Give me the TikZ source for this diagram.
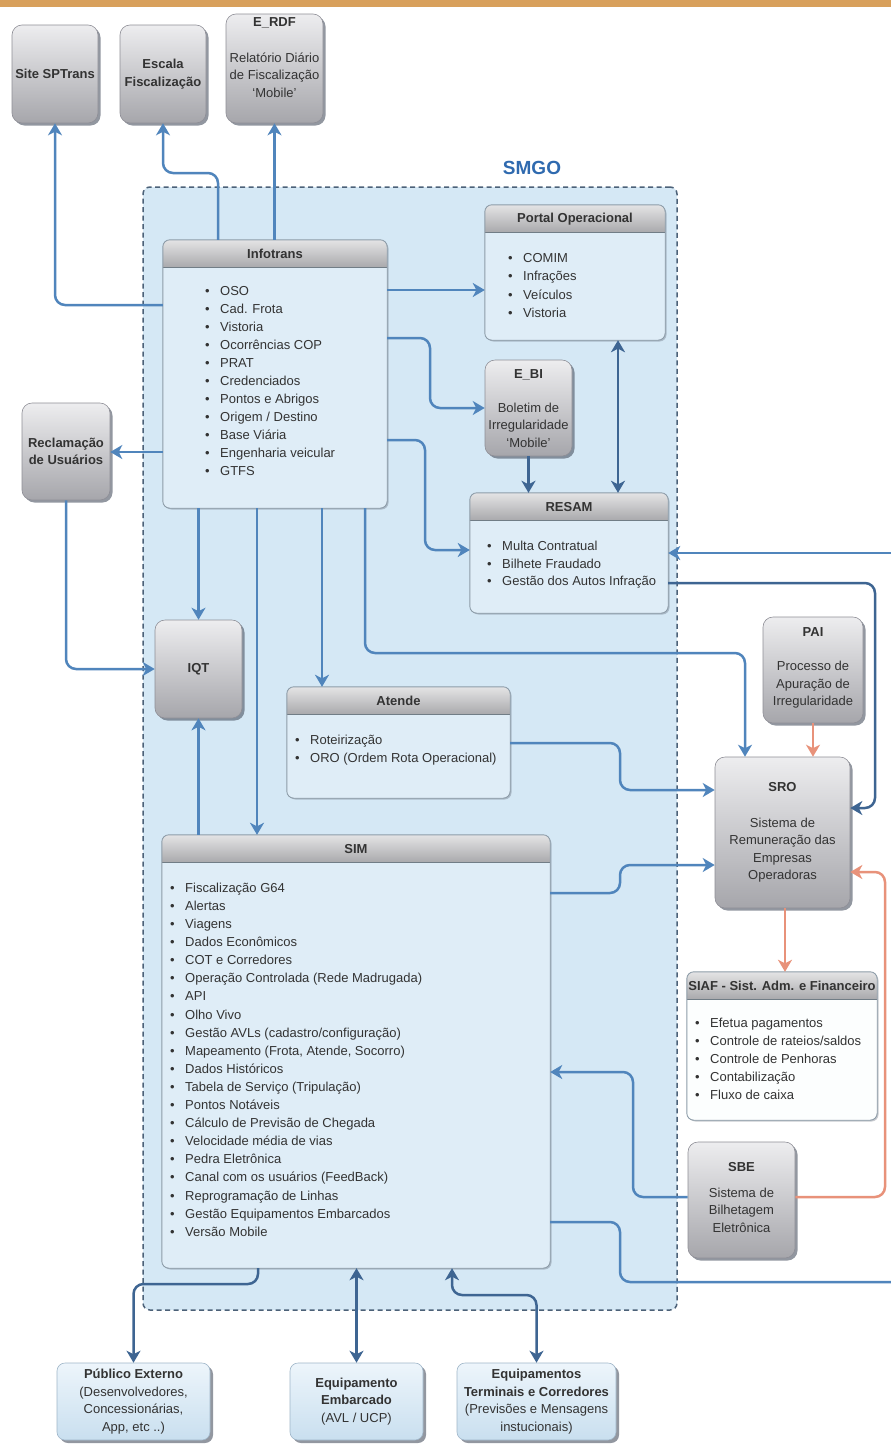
\documentclass[tikz,border=0pt]{standalone}
\usepackage{fontspec}
\setmainfont{Liberation Sans}
\usetikzlibrary{arrows.meta,shadows,fit,calc}
\definecolor{smgobg}{HTML}{D5E8F5}
\definecolor{smgoedge}{HTML}{4C6178}
\definecolor{modbodyc}{HTML}{DFEDF7}
\definecolor{modedgec}{HTML}{8D9CA8}
\definecolor{hdrtop}{HTML}{E4E4E5}
\definecolor{hdrbot}{HTML}{A8A8AB}
\definecolor{gtop}{HTML}{EDEDEF}
\definecolor{gbot}{HTML}{A6A6AB}
\definecolor{gedge}{HTML}{8E8E96}
\definecolor{cblue}{HTML}{5085BC}
\definecolor{cdark}{HTML}{3E6592}
\definecolor{corange}{HTML}{E8927A}
\definecolor{textc}{HTML}{333333}
\definecolor{smgotext}{HTML}{2F6AAF}
\definecolor{btop}{HTML}{EDF5FB}
\definecolor{bbot}{HTML}{C9DFEF}
\definecolor{bedge}{HTML}{9FB6C9}
\definecolor{topbar}{HTML}{D8A05C}
\definecolor{shadowc}{HTML}{4A5262}
\newcommand\blt{\makebox[15pt][l]{\textbullet}}
\tikzset{
  greybox/.style={draw=gedge, line width=0.6pt, rounded corners=10pt, top color=gtop, bottom color=gbot,
    drop shadow={shadow xshift=2.5pt, shadow yshift=-2.5pt, fill=shadowc, opacity=0.6}, inner sep=0pt},
  botbox/.style={draw=bedge, line width=0.6pt, rounded corners=8pt, top color=btop, bottom color=bbot,
    drop shadow={shadow xshift=3pt, shadow yshift=-3pt, fill=shadowc, opacity=0.6}, inner sep=0pt},
  modbody/.style={draw=none, fill=modbodyc, rounded corners=7pt, inner sep=0pt,
    drop shadow={shadow xshift=1.5pt, shadow yshift=-1.5pt, fill=shadowc, opacity=0.3}},
  whitebody/.style={modbody, fill=white!92!modbodyc},
  hdrtext/.style={font=\fontsize{13}{16}\selectfont\bfseries, text=textc, inner sep=0pt},
  gtitle/.style={font=\fontsize{13}{17.5}\selectfont\bfseries, text=textc, align=center, inner sep=0pt},
  gtext/.style={font=\fontsize{13}{17.5}\selectfont, text=textc, align=center, inner sep=0pt},
  listtext/.style={font=\fontsize{13}{#1}\selectfont, text=textc, align=left, inner sep=0pt, anchor=north west},
  conn/.style={draw=cblue, line width=2.5pt, rounded corners=10pt},
  conndark/.style={draw=cdark, line width=2.5pt, rounded corners=10pt},
  connor/.style={draw=corange, line width=2.5pt, rounded corners=10pt},
  >={Stealth[length=12pt,width=14pt,inset=3.5pt]}
}
\newcommand\gbox[5]{\node[greybox, fit={(#2,#3) (#4,#5)}] (#1) {};}
\newcommand\bbox[5]{\node[botbox, fit={(#2,#3) (#4,#5)}] (#1) {};}
\newcommand\modbox[7]{%
  \node[#7, fit={(#2,#3) (#4,#5)}] (#1) {};
  \begin{scope}
    \clip[rounded corners=7pt] (#1.south west) rectangle (#1.north east);
    \shade[top color=hdrtop, bottom color=hdrbot] (#1.north west) rectangle ([yshift=-28pt]#1.north east);
    \draw[modedgec!80!black, line width=1pt] ([yshift=-28pt]#1.north west) -- ([yshift=-28pt]#1.north east);
  \end{scope}
  \draw[modedgec, line width=0.9pt, rounded corners=7pt] (#1.south west) rectangle (#1.north east);
  \node[hdrtext] (#1-t) at ([yshift=-14pt]#1.north) {#6};
}
\begin{document}
\begin{tikzpicture}[x=1pt,y=-1pt]
\useasboundingbox (0,0) rectangle (891,1446);
\fill[white] (0,0) rectangle (891,1446);
\fill[topbar] (0,0) rectangle (891,7);

% SMGO container
\node[fit={(143,187) (677,1310)}, inner sep=0pt, draw=smgoedge, fill=smgobg, line width=1.5pt,
  dash pattern=on 5pt off 3.5pt, rounded corners=7pt] (smgo) {};
\node[font=\fontsize{19}{20}\selectfont\bfseries, text=smgotext, inner sep=0pt] (smgo-t) at (532,168) {SMGO};

% grey boxes
\gbox{site}{12}{25}{98}{123}
\node[gtitle] (site-t) at (site) {Site SPTrans};
\gbox{escala}{120}{25}{206}{123}
\node[gtitle] (escala-t) at (escala) {Escala\\Fiscalização};
\gbox{erdf}{226}{14}{323}{123}
\node[gtitle] (erdf-t) at (274.5,23) {E\_RDF};
\node[gtext] (erdf-d) at (274.5,75) {Relatório Diário\\de Fiscalização\\‘Mobile’};
\gbox{recl}{22}{403}{110}{500}
\node[gtitle] (recl-t) at (recl) {Reclamação\\de Usuários};
\gbox{iqt}{155}{620}{242}{718}
\node[gtitle] (iqt-t) at (iqt) {IQT};
\gbox{ebi}{485}{360}{572}{456}
\node[gtitle] (ebi-t) at (528.5,375) {E\_BI};
\node[gtext] (ebi-d) at (528.5,425) {Boletim de\\Irregularidade\\‘Mobile’};
\gbox{pai}{763}{617}{863}{723}
\node[gtitle] (pai-t) at (813,632) {PAI};
\node[gtext] (pai-d) at (813,685) {Processo de\\Apuração de\\Irregularidade};
\gbox{sro}{715}{757}{850}{908}
\node[gtitle] (sro-t) at (782.5,787) {SRO};
\node[gtext] (sro-d) at (782.5,850) {Sistema de\\Remuneração das\\Empresas\\Operadoras};
\gbox{sbe}{688}{1142}{795}{1258}
\node[gtitle] (sbe-t) at (741.5,1167) {SBE};
\node[gtext] (sbe-d) at (741.5,1210) {Sistema de\\Bilhetagem\\Eletrônica};

% bottom boxes
\bbox{publico}{57}{1363}{210}{1440}
\node[gtext] (publico-t) at (publico) {\textbf{Público Externo}\\(Desenvolvedores,\\Concessionárias,\\App, etc ..)};
\bbox{embarc}{290}{1363}{423}{1440}
\node[gtext] (embarc-t) at (embarc) {\textbf{Equipamento}\\\textbf{Embarcado}\\(AVL / UCP)};
\bbox{term}{457}{1363}{616}{1440}
\node[gtext] (term-t) at (term) {\textbf{Equipamentos}\\\textbf{Terminais e Corredores}\\(Previsões e Mensagens\\instucionais)};

% module boxes
\modbox{infotrans}{163}{240}{387}{508}{Infotrans}{modbody}
\node[listtext=18] (infotrans-l) at (205,282.5) {\strut\blt OSO\\\blt Cad. Frota\\\blt Vistoria\\\blt Ocorrências COP\\\blt PRAT\\\blt Credenciados\\\blt Pontos e Abrigos\\\blt Origem / Destino\\\blt Base Viária\\\blt Engenharia veicular\\\blt GTFS};
\modbox{portal}{485}{205}{665}{340}{Portal Operacional}{modbody}
\node[listtext=18.3] (portal-l) at (508,249.5) {\strut\blt COMIM\\\blt Infrações\\\blt Veículos\\\blt Vistoria};
\modbox{resam}{470}{493}{668}{613}{RESAM}{modbody}
\node[listtext=17.5] (resam-l) at (487,538.5) {\strut\blt Multa Contratual\\\blt Bilhete Fraudado\\\blt Gestão dos Autos Infração};
\modbox{atende}{287}{687}{510}{798}{Atende}{modbody}
\node[listtext=18] (atende-l) at (295,731.5) {\strut\blt Roteirização\\\blt ORO (Ordem Rota Operacional)};
\modbox{sim}{162}{835}{550}{1268}{SIM}{modbody}
\node[listtext=18.1] (sim-l) at (170,879.5) {\strut\blt Fiscalização G64\\\blt Alertas\\\blt Viagens\\\blt Dados Econômicos\\\blt COT e Corredores\\\blt Operação Controlada (Rede Madrugada)\\\blt API\\\blt Olho Vivo\\\blt Gestão AVLs (cadastro/configuração)\\\blt Mapeamento (Frota, Atende, Socorro)\\\blt Dados Históricos\\\blt Tabela de Serviço (Tripulação)\\\blt Pontos Notáveis\\\blt Cálculo de Previsão de Chegada\\\blt Velocidade média de vias\\\blt Pedra Eletrônica\\\blt Canal com os usuários (FeedBack)\\\blt Reprogramação de Linhas\\\blt Gestão Equipamentos Embarcados\\\blt Versão Mobile};
\modbox{siaf}{687}{972}{877}{1120}{SIAF - Sist. Adm. e Financeiro}{whitebody}
\node[listtext=18] (siaf-l) at (695,1014.5) {\strut\blt Efetua pagamentos\\\blt Controle de rateios/saldos\\\blt Controle de Penhoras\\\blt Contabilização\\\blt Fluxo de caixa};

% connectors
\draw[conn,->] (infotrans.west |- 0,305) -| (site.south);
\draw[conn,->] (infotrans.north -| 218,0) |- (escala.south |- 0,173) -- (escala.south);
\draw[conn,->] (infotrans.north -| erdf.south) -- (erdf.south);
\draw[conn,->] (infotrans.east |- 0,290) -- (portal.west |- 0,290);
\draw[conn,->] (infotrans.east |- 0,338) -| (430,0 |- ebi.west) -- (ebi.west);
\draw[conn,->] (infotrans.east |- 0,440) -| (425,550) -- (resam.west |- 0,550);
\draw[conndark,->] (ebi.south) -- (ebi.south |- resam.north);
\draw[conndark,<->] (portal.south -| 618,0) -- (resam.north -| 618,0);
\draw[conn,->] (infotrans.west |- 0,452) -- (recl.east |- 0,452);
\draw[conn,->] (recl.south) |- (iqt.west);
\draw[conn,->] (infotrans.south -| iqt.north) -- (iqt.north);
\draw[conn,->] (sim.north -| iqt.south) -- (iqt.south);
\draw[conn,->] (infotrans.south -| 257,0) -- (sim.north -| 257,0);
\draw[conn,->] (infotrans.south -| 322,0) -- (atende.north -| 322,0);
\draw[conn,->] (infotrans.south -| 365,0) |- (745,653) -- (sro.north -| 745,0);
\draw[conn,->] (atende.east |- 0,743) -| (620,790) -- (sro.west |- 0,790);
\draw[conn,->] (sim.east |- 0,893) -| (620,865) -- (sro.west |- 0,865);
\draw[conndark,->] (resam.east |- 0,583) -| (875,808) -- (sro.east |- 0,808);
\coordinate (edgeA) at (891,553);
\draw[conn,->] (edgeA) -- (resam.east |- edgeA);
\coordinate (edgeB) at (891,1282);
\draw[conn] (sim.east |- 0,1222) -| (620,1282) -- (edgeB);
\draw[connor,->] (pai.south) -- (pai.south |- sro.north);
\draw[connor,->] (sro.south -| 785,0) -- (siaf.north -| 785,0);
\draw[connor,->] (sbe.east |- 0,1197) -| (885,872) -- (sro.east |- 0,872);
\draw[conn,->] (sbe.west |- 0,1197) -| (633,1072) -- (sim.east |- 0,1072);
\draw[conndark,->] (sim.south -| 258,0) |- (publico.north |- 0,1284) -- (publico.north);
\draw[conndark,<->] (sim.south -| embarc.north) -- (embarc.north);
\draw[conndark,<->] (sim.south -| 452,0) |- (term.north |- 0,1295) -- (term.north);
\end{tikzpicture}
\end{document}
